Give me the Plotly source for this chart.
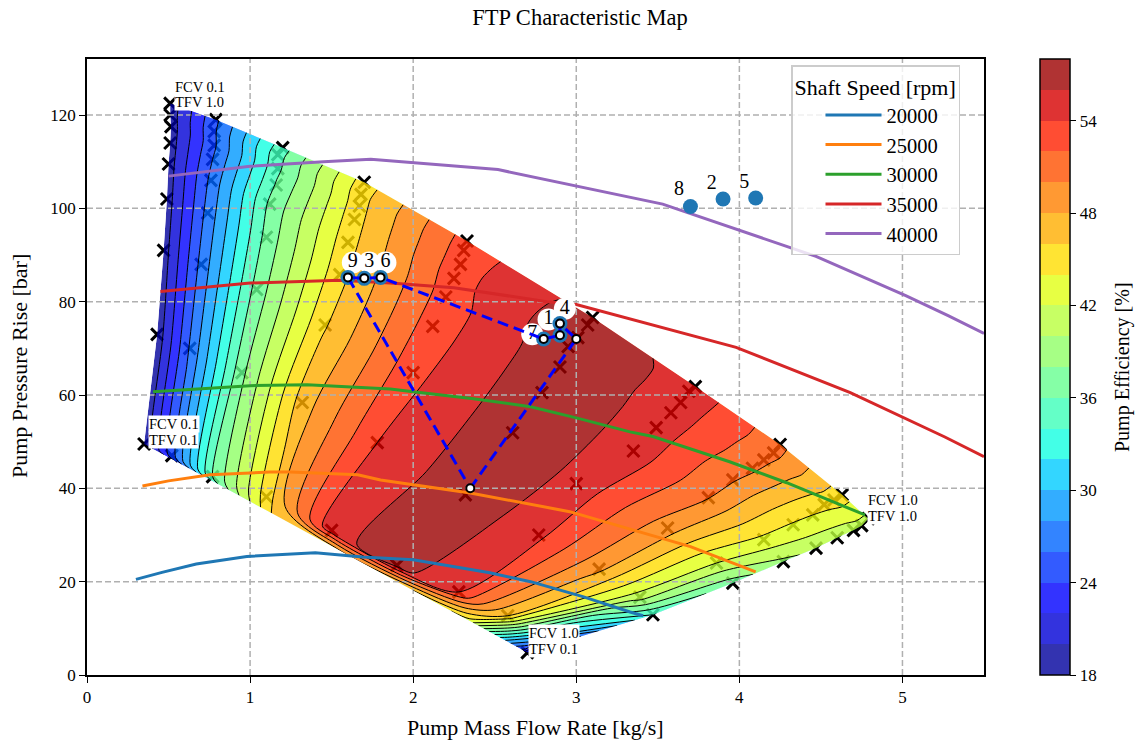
import numpy as np
import plotly.graph_objects as go

FONT = "Liberation Serif"

# measured map nodes (one list per constant-FCV column, TFV rows from top to bottom)
col_x = [
    [0.51, 0.51, 0.515, 0.51, 0.50, 0.49, 0.47, 0.43, 0.35],
    [0.79, 0.78, 0.78, 0.77, 0.76, 0.74, 0.70, 0.63, 0.52],
    [1.20, 1.17, 1.17, 1.16, 1.12, 1.10, 1.04, 0.95, 0.77],
    [1.70, 1.68, 1.67, 1.64, 1.60, 1.55, 1.46, 1.32, 1.10],
    [2.33, 2.31, 2.29, 2.25, 2.20, 2.12, 2.00, 1.78, 1.50],
    [3.10, 3.07, 3.01, 2.95, 2.90, 2.79, 2.61, 2.32, 1.90],
    [3.73, 3.69, 3.64, 3.58, 3.49, 3.35, 3.00, 2.77, 2.28],
    [4.25, 4.21, 4.15, 4.08, 3.96, 3.81, 3.56, 3.14, 2.58],
    [4.63, 4.58, 4.52, 4.45, 4.33, 4.15, 3.86, 3.39, 2.75],
    [4.79, 4.75, 4.70, 4.60, 4.47, 4.27, 3.96, 3.47, 2.70],
]
col_y = [
    [122.5, 120.0, 117.5, 114.0, 109.5, 102.0, 91.0, 73.0, 49.5],
    [119.0, 116.5, 113.5, 110.5, 106.0, 99.0, 88.0, 70.0, 47.0],
    [113.0, 111.5, 108.5, 105.0, 100.9, 93.8, 82.6, 64.8, 42.5],
    [105.6, 103.0, 100.5, 97.6, 92.7, 85.8, 75.0, 58.4, 38.2],
    [93.0, 91.0, 88.0, 85.0, 81.0, 74.7, 64.8, 49.8, 31.0],
    [76.6, 75.0, 72.3, 70.4, 66.0, 60.5, 51.9, 38.6, 23.5],
    [61.8, 60.8, 58.4, 56.2, 53.0, 48.0, 41.0, 30.0, 17.8],
    [49.4, 47.6, 46.1, 44.3, 41.8, 38.0, 31.5, 22.7, 12.7],
    [38.6, 37.5, 36.5, 34.3, 32.2, 29.0, 24.0, 16.7, 8.0],
    [33.5, 32.0, 31.0, 29.4, 27.2, 24.3, 19.7, 12.9, 4.8],
]
col_eff = [
    [18.8, 18.9, 19.0, 19.0, 19.0, 19.0, 19.0, 18.7, 18.5],
    [25.6, 25.7, 25.7, 26.0, 26.5, 26.7, 26.6, 26.2, 25.0],
    [35.2, 35.2, 35.6, 36.2, 36.4, 36.7, 36.8, 37.5, 36.0],
    [45.0, 45.3, 45.4, 45.3, 45.3, 45.4, 45.8, 47.0, 45.0],
    [52.9, 53.0, 53.2, 53.2, 53.0, 53.1, 53.5, 54.0, 55.5],
    [57.0, 57.3, 57.5, 57.5, 57.5, 57.5, 57.5, 57.6, 56.8],
    [55.3, 55.3, 55.2, 55.2, 55.2, 55.2, 55.5, 54.5, 54.0],
    [50.6, 50.6, 50.5, 50.4, 50.2, 50.1, 49.0, 48.5, 46.0],
    [45.0, 45.0, 44.7, 44.0, 43.8, 43.5, 42.0, 41.0, 30.0],
    [41.5, 41.3, 41.0, 40.8, 40.5, 39.5, 37.0, 34.0, 20.0],
]
# lower hull of the filled map
hull_x = [0.36, 0.55, 0.80, 1.13, 1.55, 2.00, 2.35, 2.58, 2.68, 2.70]
hull_y = [49.3, 45.7, 41.0, 34.7, 26.7, 18.1, 11.5, 7.1, 5.2, 4.8]
hull_eff = [18.5, 24.5, 36.0, 46.0, 48.0, 46.0, 43.0, 29.0, 23.0, 20.0]

# speed lines
flow_20k = [0.30, 0.46, 0.67, 0.98, 1.40, 1.69, 2.00, 2.25, 2.47, 2.72, 3.04, 3.33, 3.41]
rise_20k = [20.5, 22.0, 23.8, 25.4, 26.2, 25.3, 24.7, 23.2, 21.9, 20.0, 16.8, 13.5, 12.7]
flow_25k = [0.34, 0.50, 0.755, 1.12, 1.25, 1.66, 1.80, 2.35, 2.96, 3.27, 3.70, 4.10]
rise_25k = [40.5, 41.6, 42.9, 43.5, 43.5, 42.9, 41.8, 39.0, 35.0, 31.8, 27.5, 22.1]
flow_30k = [0.405, 1.00, 1.35, 1.86, 2.00, 2.37, 2.72, 3.00, 3.33, 3.47, 3.94, 4.29, 4.77]
rise_30k = [60.7, 62.0, 62.2, 61.3, 60.7, 59.2, 57.5, 55.1, 52.1, 51.1, 45.7, 41.2, 34.3]
flow_35k = [0.45, 1.00, 1.55, 1.86, 2.25, 2.82, 3.00, 3.98, 4.68, 5.26, 5.50]
rise_35k = [82.2, 84.0, 84.6, 84.0, 83.0, 80.0, 79.4, 70.2, 60.5, 51.0, 46.8]
flow_40k = [0.50, 1.00, 1.45, 1.74, 2.52, 3.53, 4.47, 5.02, 5.28, 5.50]
rise_40k = [106.9, 109.0, 110.0, 110.5, 108.3, 100.9, 89.7, 81.3, 77.0, 73.2]
speed_names = ["20000", "25000", "30000", "35000", "40000"]
speed_colors = ["#1f77b4", "#ff7f0e", "#2ca02c", "#d62728", "#9467bd"]

# operating points
pt_labels = ["1", "2", "3", "4", "5", "6", "7", "8", "9"]
pt_x = [2.90, 3.90, 1.70, 2.90, 4.10, 1.80, 2.80, 3.70, 1.60]
pt_y = [75.3, 102.0, 85.0, 72.8, 102.2, 85.2, 72.0, 100.4, 85.2]
lab_x = [2.83, 3.83, 1.73, 2.93, 4.03, 1.83, 2.73, 3.63, 1.63]
lab_y = [76.2, 105.3, 88.4, 78.5, 105.5, 88.4, 73.0, 104.0, 88.4]
# transfer path
path_x = [2.35, 3.00, 2.90, 2.90, 2.80, 1.80, 1.70, 1.60, 2.35]
path_y = [40.0, 72.0, 75.3, 72.8, 72.0, 85.2, 85.0, 85.2, 40.0]

# corner labels
corner_line1 = ["FCV 0.1", "FCV 0.1", "FCV 1.0", "FCV 1.0"]
corner_line2 = ["TFV 1.0", "TFV 0.1", "TFV 0.1", "TFV 1.0"]
corner_x = [0.534, 0.374, 2.706, 4.785]
corner_y1 = [126.0, 53.8, 8.9, 37.5]
corner_y2 = [122.7, 50.3, 5.6, 34.0]

x_ticks = [0, 1, 2, 3, 4, 5]
y_ticks = [0, 20, 40, 60, 80, 100, 120]
cb_ticks = [18, 24, 30, 36, 42, 48, 54]
x_range = [0, 5.5]
y_range = [0, 132]
level_lo, level_hi, level_step = 18, 58, 2


def jet(t):
    r = np.interp(t, [0, .35, .66, .89, 1], [0, 0, 1, 1, .5])
    g = np.interp(t, [0, .125, .375, .64, .91, 1], [0, 0, 1, 1, 0, 0])
    b = np.interp(t, [0, .11, .34, .65, 1], [.5, 1, 1, 0, 0])
    return r * 255, g * 255, b * 255


n_bands = (level_hi - level_lo) // level_step
scale, scale_blended = [], []
for i in range(n_bands):
    r, g, bl = jet((i + .5) / n_bands)
    c = f"rgb({int(r)},{int(g)},{int(bl)})"
    cb = f"rgb({int(r * .8 + 51)},{int(g * .8 + 51)},{int(bl * .8 + 51)})"
    scale += [[i / n_bands, c], [(i + 1) / n_bands, c]]
    scale_blended += [[i / n_bands, cb], [(i + 1) / n_bands, cb]]

a_vals = list(range(len(col_x)))
b_vals = list(range(len(col_x[0]) + 1))
mesh_x = [list(r) for r in zip(*[c + [h] for c, h in zip(col_x, hull_x)])]
mesh_y = [list(r) for r in zip(*[c + [h] for c, h in zip(col_y, hull_y)])]
mesh_z = [list(r) for r in zip(*[c + [h] for c, h in zip(col_eff, hull_eff)])]

hidden = dict(showgrid=False, showticklabels="none", showline=False, startline=False,
              endline=False, minorgridcount=0, smoothing=0, title="")

fig = go.Figure()

# sample crosses, underneath the translucent map
fig.add_trace(go.Scatter(
    x=[v for c in col_x for v in c], y=[v for c in col_y for v in c], mode="markers",
    marker=dict(symbol="x-thin", size=12, line=dict(width=3, color="black")),
    showlegend=False, hoverinfo="skip", cliponaxis=False, xaxis="x", yaxis="y"))

# colour bar (drawn in the blended colours that the translucent fill shows on white)
fig.add_trace(go.Scatter(
    x=[None, None], y=[None, None], mode="markers", showlegend=False, hoverinfo="skip",
    marker=dict(color=[level_lo, level_hi], cmin=level_lo, cmax=level_hi, colorscale=scale_blended, showscale=True,
                colorbar=dict(x=(1040 - 87) / 897, xanchor="left", y=0, yanchor="bottom", len=1, lenmode="fraction",
                              thickness=30, thicknessmode="pixels", xpad=0, ypad=0,
                              outlinecolor="black", outlinewidth=1.5,
                              tickmode="array", tickvals=cb_ticks, ticks="outside", ticklen=6, tickwidth=1.2,
                              tickcolor="black", tickfont=dict(family=FONT, size=17, color="black")))))

# filled map
fig.add_trace(go.Carpet(carpet="c1", a=a_vals, b=b_vals, x=mesh_x, y=mesh_y, aaxis=hidden, baxis=hidden,
                        xaxis="x2", yaxis="y2"))
fig.add_trace(go.Contourcarpet(
    carpet="c1", a=a_vals, b=b_vals, z=mesh_z, xaxis="x2", yaxis="y2", showlegend=False, opacity=0.8,
    autocontour=False, contours=dict(start=level_lo + level_step, end=level_hi - level_step,
                                     size=level_step, coloring="fill"),
    line=dict(width=0, smoothing=0.8), colorscale=scale, zmin=level_lo, zmax=level_hi, showscale=False))

# grid above the fill
gx, gy = [], []
for v in x_ticks[1:]:
    gx += [v, v, None]
    gy += [y_range[0], y_range[1], None]
for v in y_ticks[1:]:
    gx += [x_range[0], x_range[1], None]
    gy += [v, v, None]
fig.add_trace(go.Scatter(x=gx, y=gy, mode="lines", line=dict(color="#b0b0b0", width=1.5, dash="6px,3px"),
                         showlegend=False, hoverinfo="skip", xaxis="x2", yaxis="y2"))

# contour lines
fig.add_trace(go.Carpet(carpet="c2", a=a_vals, b=b_vals, x=mesh_x, y=mesh_y, aaxis=hidden, baxis=hidden,
                        xaxis="x3", yaxis="y3"))
fig.add_trace(go.Contourcarpet(
    carpet="c2", a=a_vals, b=b_vals, z=mesh_z, xaxis="x3", yaxis="y3", showlegend=False,
    autocontour=False, contours=dict(start=level_lo + level_step, end=level_hi - level_step,
                                     size=level_step, coloring="none"),
    line=dict(width=1, color="black", smoothing=0.8), showscale=False))

# speed lines
for name, color, fx, ry in zip(speed_names, speed_colors,
                               [flow_20k, flow_25k, flow_30k, flow_35k, flow_40k],
                               [rise_20k, rise_25k, rise_30k, rise_35k, rise_40k]):
    fig.add_trace(go.Scatter(x=fx, y=ry, mode="lines", name=name, legendgroup=name,
                             line=dict(color=color, width=3), xaxis="x3", yaxis="y3"))

# point labels, dots, path
fig.add_trace(go.Scatter(x=lab_x, y=lab_y, mode="markers", marker=dict(size=22, color="white"),
                         showlegend=False, hoverinfo="skip", xaxis="x3", yaxis="y3"))
fig.add_trace(go.Scatter(x=lab_x, y=lab_y, mode="text", text=pt_labels, textposition="middle center",
                         textfont=dict(family=FONT, size=20, color="black"),
                         showlegend=False, hoverinfo="skip", xaxis="x3", yaxis="y3"))
fig.add_trace(go.Scatter(x=pt_x, y=pt_y, mode="markers", marker=dict(size=15, color="#1f77b4"),
                         showlegend=False, xaxis="x3", yaxis="y3"))
fig.add_trace(go.Scatter(x=path_x, y=path_y, mode="lines", line=dict(color="#0000ff", width=3, dash="11px,6px"),
                         showlegend=False, xaxis="x3", yaxis="y3"))
fig.add_trace(go.Scatter(x=path_x[:-1], y=path_y[:-1], mode="markers",
                         marker=dict(size=8, color="white", line=dict(width=2, color="black")),
                         showlegend=False, xaxis="x3", yaxis="y3"))

annotations = []
for t1, t2, x, y1, y2 in zip(corner_line1, corner_line2, corner_x, corner_y1, corner_y2):
    for t, y in ((t1, y1), (t2, y2)):
        annotations.append(dict(text=t, x=x, y=y, xref="x", yref="y", showarrow=False, xanchor="left",
                                yanchor="middle", bgcolor="white", borderpad=0,
                                font=dict(family=FONT, size=14.5, color="black")))
label_font = dict(family=FONT, size=22, color="black")
annotations.append(dict(text="Pump Efficiency [%]", xref="paper", yref="paper", showarrow=False,
                        x=(1122 - 87) / 897, y=(675 - 367) / 616, textangle=-90,
                        font=dict(family=FONT, size=20, color="black"),
                        xanchor="center", yanchor="middle"))
annotations.append(dict(text="Pump Mass Flow Rate [kg/s]", xref="paper", yref="paper", showarrow=False,
                        x=(535 - 87) / 897, y=(675 - 727) / 616, font=label_font,
                        xanchor="center", yanchor="middle"))
annotations.append(dict(text="Pump Pressure Rise [bar]", xref="paper", yref="paper", showarrow=False,
                        x=(19 - 87) / 897, y=(675 - 366) / 616, textangle=-90, font=label_font,
                        xanchor="center", yanchor="middle"))

axis_common = dict(showgrid=False, zeroline=False, showline=True, linecolor="black", linewidth=1.5, mirror=True,
                   ticks="outside", ticklen=6, tickwidth=1.2, tickcolor="black",
                   tickfont=dict(family=FONT, size=17, color="black"))
hidden_axis = dict(visible=False, showgrid=False, zeroline=False)
fig.update_layout(
    width=1136, height=742, autosize=False,
    margin=dict(l=87, r=152, t=59, b=67), paper_bgcolor="white", plot_bgcolor="white",
    title=dict(text="FTP Characteristic Map", x=580 / 1136, xanchor="center", y=1 - 17 / 742, yanchor="middle",
               font=dict(family=FONT, size=22.5, color="black")),
    xaxis=dict(axis_common, range=x_range, tickvals=x_ticks),
    yaxis=dict(axis_common, range=y_range, tickvals=y_ticks),
    xaxis2=dict(hidden_axis, range=x_range, overlaying="x", anchor="y2"),
    yaxis2=dict(hidden_axis, range=y_range, overlaying="y", anchor="x2"),
    xaxis3=dict(hidden_axis, range=x_range, overlaying="x", anchor="y3"),
    yaxis3=dict(hidden_axis, range=y_range, overlaying="y", anchor="x3"),
    legend=dict(title=dict(text="Shaft Speed [rpm]", font=dict(family=FONT, size=22, color="black")),
                font=dict(family=FONT, size=20.5, color="black"),
                x=(791 - 87) / 897, xanchor="left", y=(675 - 65) / 616, yanchor="top",
                bgcolor="rgba(255,255,255,0.8)", bordercolor="#cccccc", borderwidth=1.5,
                tracegroupgap=0, itemwidth=56, indentation=28, entrywidth=85, entrywidthmode="pixels"),
    annotations=annotations,
    showlegend=True,
)
fig.write_html("out.html", post_script="document.body.style.margin='0';", config=dict(displayModeBar=False))
